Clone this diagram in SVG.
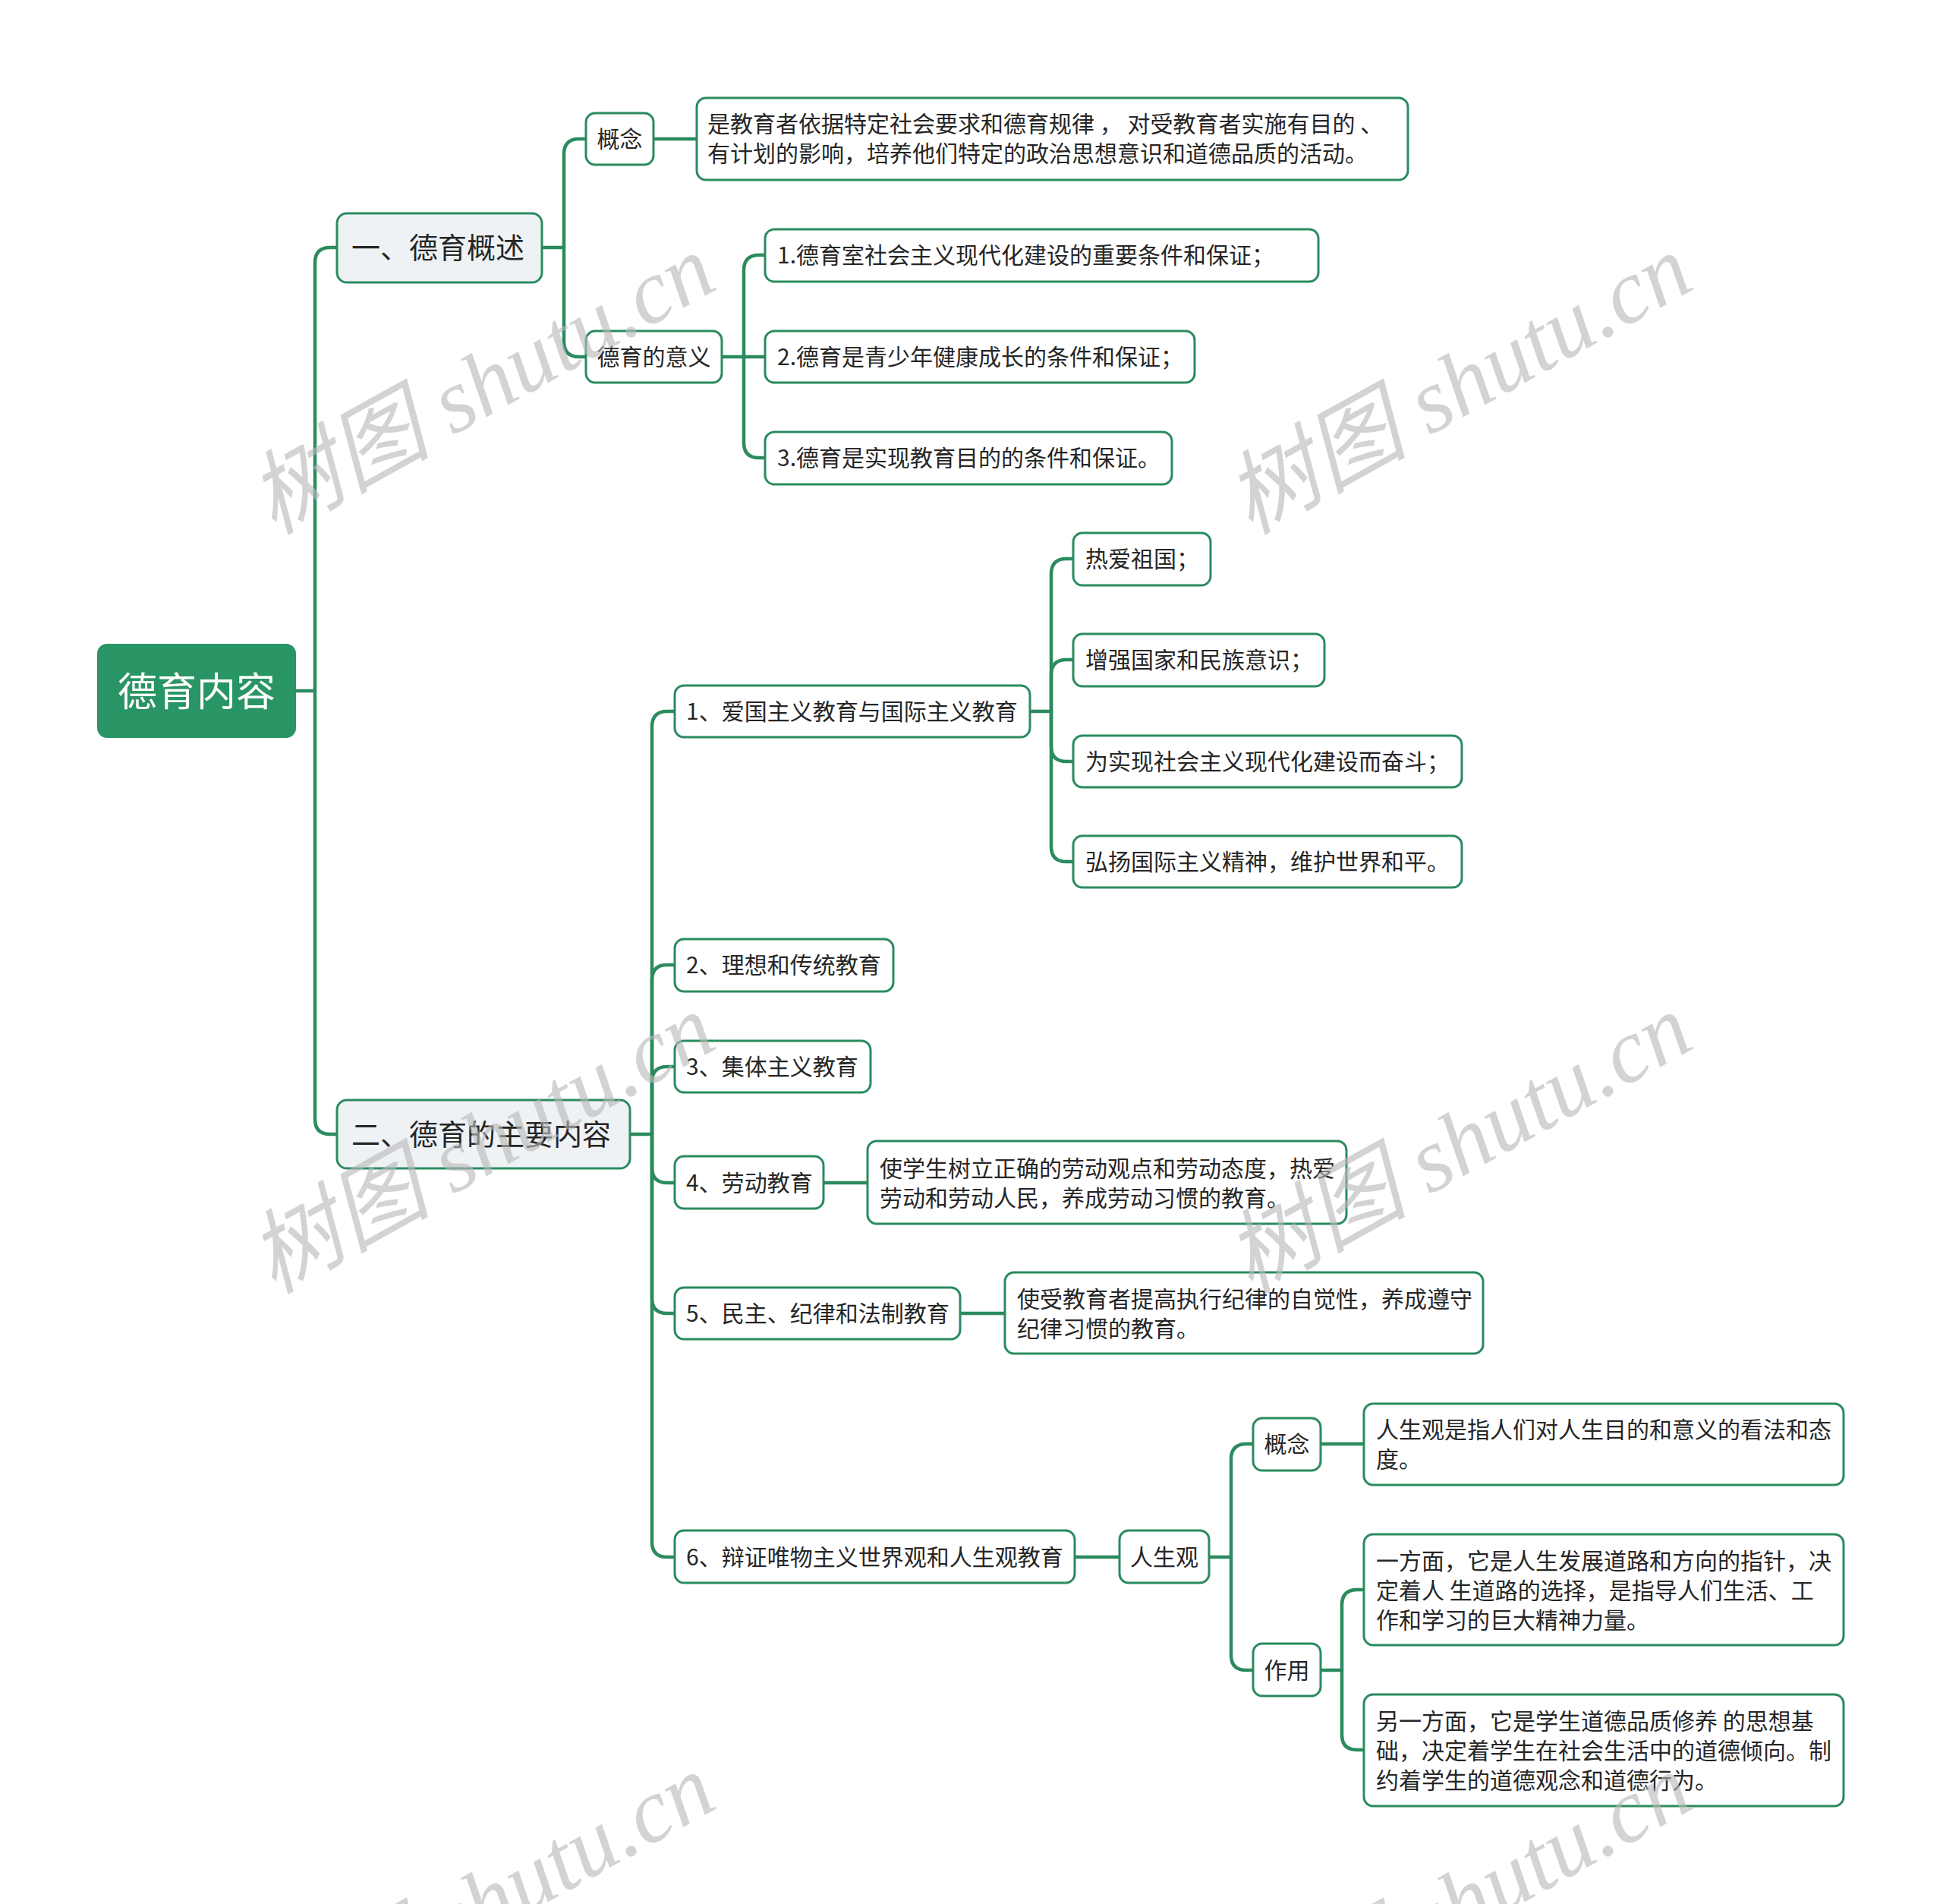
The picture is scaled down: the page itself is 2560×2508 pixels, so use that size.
<svg xmlns="http://www.w3.org/2000/svg" width="2560" height="2508" viewBox="0 0 2560 2508">
<style>
.bg{fill:#ffffff}
.conn path{fill:none;stroke:#2b8b5f;stroke-width:4.5;stroke-linecap:round;stroke-linejoin:round}
.root rect{fill:#2a9564;stroke:#2a9564;stroke-width:2}
.root text{fill:#ffffff;font-size:52px}
.main rect{fill:#eef2f5;stroke:#2b8b5f;stroke-width:3}
.main text{font-size:38px}
.leaf rect{fill:#ffffff;stroke:#2b8b5f;stroke-width:3}
.leaf text{font-size:30px}
text{font-family:"Microsoft YaHei","Noto Sans CJK SC","Noto Sans",sans-serif;fill:#262626}
.wm text{font-family:"Liberation Serif","Noto Sans CJK SC",serif;font-style:italic;font-size:120px;fill:#b8b8b8;fill-opacity:0.62}
</style>
<rect class="bg" x="0" y="0" width="2560" height="2508"/>

<g id="connectors" class="conn">
<path d="M389 910 H415"/>
<path d="M415 910 V346 Q415 326 435 326 H444"/>
<path d="M415 910 V1474 Q415 1494 435 1494 H444"/>

<path d="M714 326 H743"/>
<path d="M743 326 V203 Q743 183 763 183 H772"/>
<path d="M743 326 V450 Q743 470 763 470 H772"/>
<path d="M861 183 H918"/>

<path d="M951 470 H980"/>
<path d="M980 470 V356 Q980 336 1000 336 H1008"/>
<path d="M980 470 H1008"/>
<path d="M980 470 V583 Q980 603 1000 603 H1008"/>

<path d="M830 1494 H859"/>
<path d="M859 1494 V957 Q859 937 879 937 H889"/>
<path d="M859 1494 V1291 Q859 1271 879 1271 H889"/>
<path d="M859 1494 V1425 Q859 1405 879 1405 H889"/>
<path d="M859 1494 V1538 Q859 1558 879 1558 H889"/>
<path d="M859 1494 V1710 Q859 1730 879 1730 H889"/>
<path d="M859 1494 V2031 Q859 2051 879 2051 H889"/>

<path d="M1357 937 H1385"/>
<path d="M1385 937 V756 Q1385 736 1405 736 H1414"/>
<path d="M1385 937 V889 Q1385 869 1405 869 H1414"/>
<path d="M1385 937 V983 Q1385 1003 1405 1003 H1414"/>
<path d="M1385 937 V1115 Q1385 1135 1405 1135 H1414"/>

<path d="M1085 1558 H1143"/>
<path d="M1265 1730 H1324"/>
<path d="M1416 2051 H1475"/>

<path d="M1593 2051 H1622"/>
<path d="M1622 2051 V1922 Q1622 1902 1642 1902 H1651"/>
<path d="M1622 2051 V2180 Q1622 2200 1642 2200 H1651"/>
<path d="M1740 1902 H1797"/>

<path d="M1740 2200 H1768"/>
<path d="M1768 2200 V2114 Q1768 2094 1788 2094 H1797"/>
<path d="M1768 2200 V2285 Q1768 2305 1788 2305 H1797"/>
</g>

<g id="root" class="root">
<rect x="129" y="849" width="260" height="122" rx="12"/>
<text x="259" y="930" text-anchor="middle">德育内容</text>
</g>

<g id="a1" class="main">
<rect x="444" y="281" width="270" height="91" rx="13"/>
<text x="463" y="340">一、德育概述</text>
</g>
<g id="a2" class="main">
<rect x="444" y="1449" width="386" height="90" rx="13"/>
<text x="463" y="1508">二、德育的主要内容</text>
</g>

<g id="a1-concept" class="leaf">
<rect x="772" y="149" width="89" height="68" rx="12"/>
<text x="816.5" y="194" text-anchor="middle">概念</text>
</g>
<g id="a1-concept-text" class="leaf">
<rect x="918" y="129" width="937" height="108" rx="12"/>
<text x="932" y="174">是教育者依据特定社会要求和德育规律 ， 对受教育者实施有目的 、</text>
<text x="932" y="213">有计划的影响，培养他们特定的政治思想意识和道德品质的活动。</text>
</g>
<g id="a1-meaning" class="leaf">
<rect x="772" y="436" width="179" height="68" rx="12"/>
<text x="861.5" y="481" text-anchor="middle">德育的意义</text>
</g>
<g id="m1" class="leaf">
<rect x="1008" y="302" width="729" height="69" rx="12"/>
<text x="1024" y="347">1.德育室社会主义现代化建设的重要条件和保证；</text>
</g>
<g id="m2" class="leaf">
<rect x="1008" y="436" width="566" height="68" rx="12"/>
<text x="1024" y="481">2.德育是青少年健康成长的条件和保证；</text>
</g>
<g id="m3" class="leaf">
<rect x="1008" y="569" width="536" height="69" rx="12"/>
<text x="1024" y="614">3.德育是实现教育目的的条件和保证。</text>
</g>

<g id="b1" class="leaf">
<rect x="889" y="903" width="468" height="68" rx="12"/>
<text x="904" y="948">1、爱国主义教育与国际主义教育</text>
</g>
<g id="c1" class="leaf">
<rect x="1414" y="702" width="181" height="69" rx="12"/>
<text x="1430" y="747">热爱祖国；</text>
</g>
<g id="c2" class="leaf">
<rect x="1414" y="835" width="331" height="69" rx="12"/>
<text x="1430" y="880">增强国家和民族意识；</text>
</g>
<g id="c3" class="leaf">
<rect x="1414" y="969" width="512" height="68" rx="12"/>
<text x="1430" y="1014">为实现社会主义现代化建设而奋斗；</text>
</g>
<g id="c4" class="leaf">
<rect x="1414" y="1101" width="512" height="68" rx="12"/>
<text x="1430" y="1146">弘扬国际主义精神，维护世界和平。</text>
</g>

<g id="b2" class="leaf">
<rect x="889" y="1237" width="288" height="69" rx="12"/>
<text x="904" y="1282">2、理想和传统教育</text>
</g>
<g id="b3" class="leaf">
<rect x="889" y="1371" width="258" height="68" rx="12"/>
<text x="904" y="1416">3、集体主义教育</text>
</g>
<g id="b4" class="leaf">
<rect x="889" y="1523" width="196" height="69" rx="12"/>
<text x="904" y="1569">4、劳动教育</text>
</g>
<g id="b4-text" class="leaf">
<rect x="1143" y="1503" width="631" height="109" rx="12"/>
<text x="1159" y="1550">使学生树立正确的劳动观点和劳动态度，热爱</text>
<text x="1159" y="1589">劳动和劳动人民，养成劳动习惯的教育。</text>
</g>
<g id="b5" class="leaf">
<rect x="889" y="1696" width="376" height="68" rx="12"/>
<text x="904" y="1741">5、民主、纪律和法制教育</text>
</g>
<g id="b5-text" class="leaf">
<rect x="1324" y="1676" width="630" height="107" rx="12"/>
<text x="1340" y="1722">使受教育者提高执行纪律的自觉性，养成遵守</text>
<text x="1340" y="1761">纪律习惯的教育。</text>
</g>
<g id="b6" class="leaf">
<rect x="889" y="2016" width="527" height="69" rx="12"/>
<text x="904" y="2062">6、辩证唯物主义世界观和人生观教育</text>
</g>
<g id="rsg" class="leaf">
<rect x="1475" y="2016" width="118" height="69" rx="12"/>
<text x="1534" y="2062" text-anchor="middle">人生观</text>
</g>
<g id="d1" class="leaf">
<rect x="1651" y="1868" width="89" height="69" rx="12"/>
<text x="1695.5" y="1913" text-anchor="middle">概念</text>
</g>
<g id="d1-text" class="leaf">
<rect x="1797" y="1849" width="632" height="107" rx="12"/>
<text x="1813" y="1894">人生观是指人们对人生目的和意义的看法和态</text>
<text x="1813" y="1933">度。</text>
</g>
<g id="d2" class="leaf">
<rect x="1651" y="2165" width="89" height="69" rx="12"/>
<text x="1695.5" y="2211" text-anchor="middle">作用</text>
</g>
<g id="e1" class="leaf">
<rect x="1797" y="2021" width="632" height="146" rx="12"/>
<text x="1813" y="2067">一方面，它是人生发展道路和方向的指针，决</text>
<text x="1813" y="2106">定着人 生道路的选择，是指导人们生活、工</text>
<text x="1813" y="2145">作和学习的巨大精神力量。</text>
</g>
<g id="e2" class="leaf">
<rect x="1797" y="2232" width="632" height="147" rx="12"/>
<text x="1813" y="2278">另一方面，它是学生道德品质修养 的思想基</text>
<text x="1813" y="2317">础，决定着学生在社会生活中的道德倾向。制</text>
<text x="1813" y="2356">约着学生的道德观念和道德行为。</text>
</g>

<g id="watermarks" class="wm">
<text transform="translate(360 705) rotate(-29)">树图 shutu.cn</text>
<text transform="translate(1647 705) rotate(-29)">树图 shutu.cn</text>
<text transform="translate(360 1705) rotate(-29)">树图 shutu.cn</text>
<text transform="translate(1647 1705) rotate(-29)">树图 shutu.cn</text>
<text transform="translate(360 2706) rotate(-29)">树图 shutu.cn</text>
<text transform="translate(1647 2706) rotate(-29)">树图 shutu.cn</text>
</g>
</svg>
